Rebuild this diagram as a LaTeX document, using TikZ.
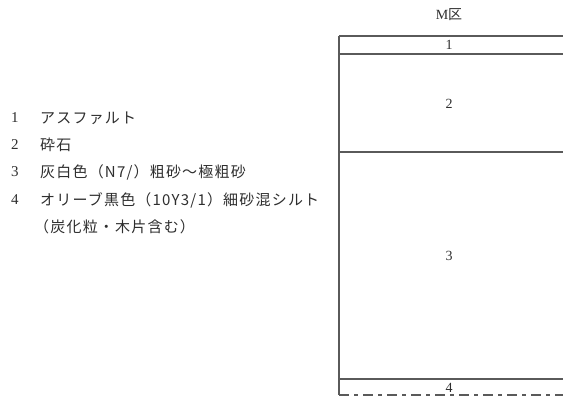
\documentclass[tikz,border=0pt]{standalone}
\usepackage{fontspec}
\setmainfont{Liberation Serif}
\newfontfamily\cjk[LetterSpace=8]{Noto Sans CJK JP}
\newfontfamily\cjkt{Noto Sans CJK JP}
\definecolor{linegray}{HTML}{5A5A5A}
\definecolor{txtgray}{HTML}{2E2E2E}
\begin{document}
\begin{tikzpicture}[x=1pt,y=-1pt,
  layerline/.style={draw=linegray, line width=1.4pt},
  baseline/.style={draw=linegray, line width=1.4pt, dash pattern=on 10pt off 5pt on 4pt off 5pt},
  lbl/.style={inner sep=0pt, text=txtgray, font=\fontsize{14}{14}\selectfont},
  leg/.style={inner sep=0pt, anchor=base west, text=txtgray, font=\fontsize{15}{15}\selectfont}]
\useasboundingbox (0,0) rectangle (563,398);
% section columns
\coordinate (tl) at (339,36);  \coordinate (tr) at (563,36);
\coordinate (l1) at (339,54);  \coordinate (r1) at (563,54);
\coordinate (l2) at (339,152); \coordinate (r2) at (563,152);
\coordinate (l3) at (339,379); \coordinate (r3) at (563,379);
\coordinate (bl) at (339,395); \coordinate (br) at (563,395);
\draw[layerline] (tl) -- (tr);
\draw[layerline] (l1) -- (r1);
\draw[layerline] (l2) -- (r2);
\draw[layerline] (l3) -- (r3);
\draw[layerline] (tl) -- (bl);
\draw[baseline] (bl) -- (br);
% labels
\node[lbl] (title) at (449,15) {M{\cjkt 区}};
\node[lbl] (n1) at (449,45) {1};
\node[lbl] (n2) at (449,104) {2};
\node[lbl] (n3) at (449,256) {3};
\node[lbl] (n4) at (449,388) {4};
% legend
\node[leg] (k1) at (11,123) {1};
\node[leg] (t1) at (40,124) {\cjk アスファルト};
\node[leg] (k2) at (11,150) {2};
\node[leg] (t2) at (40,151) {\cjk 砕石};
\node[leg] (k3) at (11,177) {3};
\node[leg] (t3) at (40,178) {\cjk 灰白色（N7/）粗砂～極粗砂};
\node[leg] (k4) at (11,205) {4};
\node[leg] (t4) at (40,206) {\cjk オリーブ黒色（10Y3/1）細砂混シルト};
\node[leg] (t5) at (34,233) {\cjk （炭化粒・木片含む）};
\end{tikzpicture}
\end{document}
